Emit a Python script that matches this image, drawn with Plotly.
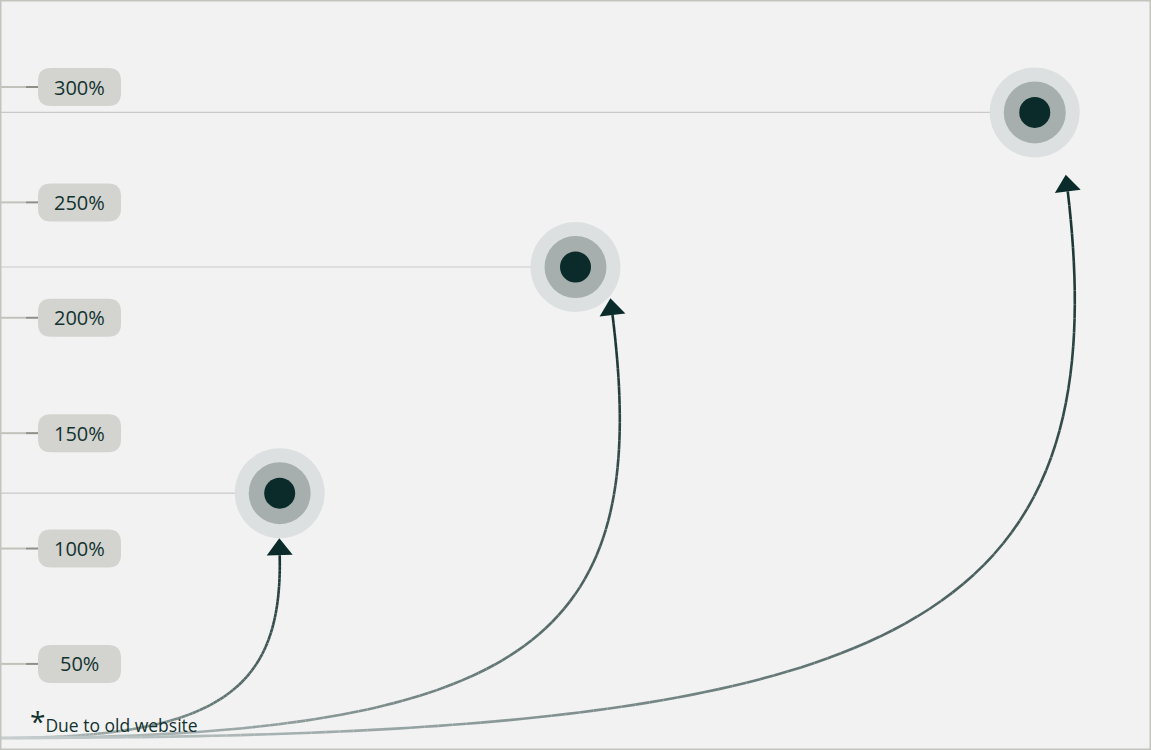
import math

import numpy as np
import plotly.graph_objects as go


# ---- data ----
tick_values = [50, 100, 150, 200, 250, 300]
tick_labels = ["50%", "100%", "150%", "200%", "250%", "300%"]
point_x = [24.3, 50.0, 89.9]          # position along the (hidden) horizontal axis, 0-100
point_values = [124, 222, 289]        # growth, %
footnote = "Due to old website"

# ---- styling ----
W, H = 1151, 750
X_RANGE = [0, 100]
Y_RANGE = [12.7, 337.7]
TEXT = "#12332f"
LINE_DARK = (22, 50, 48)
LINE_LIGHT = (200, 208, 207)
FONT = "Open Sans"

# arrow geometry (pixels): start of every curve, arrow base offset from the point,
# first-control x as a fraction of end x, second-control offset from arrow base
CURVE_START = (0, 738)
ARROW_OFFSET = [(0, 62), (37, 48), (33, 79)]
CTRL1_FRAC = [0.79, 0.88, 0.82]
CTRL2_OFFSET = [(3, 134), (40, 320), (54, 455)]
ARROW_SIZE = 22.5
N_SEG = 100


def to_px(x, y):
    return (x - X_RANGE[0]) / (X_RANGE[1] - X_RANGE[0]) * W, (Y_RANGE[1] - y) / (Y_RANGE[1] - Y_RANGE[0]) * H


def to_data(px, py):
    return X_RANGE[0] + px / W * (X_RANGE[1] - X_RANGE[0]), Y_RANGE[1] - py / H * (Y_RANGE[1] - Y_RANGE[0])


def mix(f):
    c = [int(round(l + (d - l) * f)) for l, d in zip(LINE_LIGHT, LINE_DARK)]
    return f"rgb({c[0]},{c[1]},{c[2]})"


def bezier(p0, p1, p2, p3, t):
    t = t[:, None]
    return ((1 - t) ** 3) * p0 + 3 * ((1 - t) ** 2) * t * p1 + 3 * (1 - t) * t ** 2 * p2 + t ** 3 * p3


fig = go.Figure()

# reference lines from the left edge to each point
for x, v in zip(point_x, point_values):
    fig.add_trace(go.Scatter(
        x=[X_RANGE[0], x], y=[v, v], mode="lines",
        line=dict(color="#c9c9c9", width=1.2), hoverinfo="skip",
    ))

# curved arrows, gradient light -> dark along the path length
arrow_x, arrow_y, arrow_ang = [], [], []
for i, (x, v) in enumerate(zip(point_x, point_values)):
    cx, cy = to_px(x, v)
    p3 = np.array([cx + ARROW_OFFSET[i][0], cy + ARROW_OFFSET[i][1]])
    p0 = np.array(CURVE_START, dtype=float)
    p1 = np.array([p3[0] * CTRL1_FRAC[i], CURVE_START[1]])
    p2 = p3 + np.array(CTRL2_OFFSET[i])
    pts = bezier(p0, p1, p2, p3, np.linspace(0, 1, 400))
    seglen = np.hypot(*np.diff(pts, axis=0).T)
    arc = np.concatenate([[0], np.cumsum(seglen)]) / seglen.sum()
    # resample at equal arc length
    s = np.linspace(0, 1, N_SEG + 1)
    pts = np.column_stack([np.interp(s, arc, pts[:, 0]), np.interp(s, arc, pts[:, 1])])
    for k in range(N_SEG):
        seg = pts[k:k + 2]
        dx, dy = zip(*[to_data(px, py) for px, py in seg])
        fig.add_trace(go.Scatter(
            x=list(dx), y=list(dy), mode="lines",
            line=dict(color=mix((k + 0.5) / N_SEG), width=2.6), hoverinfo="skip",
        ))
    u = p3 - p2
    u = u / np.hypot(*u)
    centre = p3 + u * ARROW_SIZE / 4
    ax, ay = to_data(*centre)
    arrow_x.append(ax)
    arrow_y.append(ay)
    arrow_ang.append(math.degrees(math.atan2(u[0], -u[1])))

fig.add_trace(go.Scatter(
    x=arrow_x, y=arrow_y, mode="markers", hoverinfo="skip",
    marker=dict(symbol="triangle-up", size=ARROW_SIZE, color="#0b2b2b", angle=arrow_ang,
                line=dict(width=0)),
))

# target rings
for size, color in [(90, "#dce0e0"), (62, "#a6afad"), (31, "#0b2b2b")]:
    fig.add_trace(go.Scatter(
        x=point_x, y=point_values, mode="markers",
        marker=dict(size=size, color=color, line=dict(width=0)),
        hovertemplate="%{y}%<extra></extra>",
    ))

# y tick pills
shapes = []
annotations = []
a, b, r = 41.5, 19, 13
pill = (f"M{-a + r},{-b} L{a - r},{-b} Q{a},{-b} {a},{-b + r} L{a},{b - r} Q{a},{b} {a - r},{b} "
        f"L{-a + r},{b} Q{-a},{b} {-a},{b - r} L{-a},{-b + r} Q{-a},{-b} {-a + r},{-b} Z")
pill_x, _ = to_data(79.5, 0)
for v, lab in zip(tick_values, tick_labels):
    shapes.append(dict(type="line", xref="paper", yref="y", x0=0, x1=26 / W, y0=v, y1=v,
                       line=dict(color="#c2c2bd", width=2)))
    shapes.append(dict(type="line", xref="paper", yref="y", x0=26 / W, x1=39 / W, y0=v, y1=v,
                       line=dict(color="#8f8f8a", width=2)))
    shapes.append(dict(type="path", xref="x", yref="y", xsizemode="pixel", ysizemode="pixel",
                       xanchor=pill_x, yanchor=v, path=pill, fillcolor="#d3d3d0",
                       line=dict(width=0), layer="above"))
    annotations.append(dict(x=pill_x, y=v, xref="x", yref="y", text=lab, showarrow=False,
                            font=dict(family=FONT, size=20, color=TEXT)))

annotations.append(dict(
    x=28 / W, y=1 - 721 / H, xref="paper", yref="paper", xanchor="left", yanchor="middle",
    text=f"<span style='font-size:28px'>*</span>{footnote}", showarrow=False,
    font=dict(family=FONT, size=17.5, color=TEXT),
))

# frame
shapes.append(dict(type="rect", xref="paper", yref="paper", x0=0, x1=1, y0=0, y1=1,
                   line=dict(color="#c4c4bf", width=3), layer="above"))

fig.update_layout(
    width=W, height=H,
    margin=dict(l=0, r=0, t=0, b=0),
    paper_bgcolor="#f2f2f2", plot_bgcolor="#f2f2f2",
    showlegend=False,
    xaxis=dict(range=X_RANGE, visible=False, fixedrange=True),
    yaxis=dict(range=Y_RANGE, visible=False, fixedrange=True),
    shapes=shapes, annotations=annotations,
    font=dict(family=FONT, color=TEXT),
)

# drop the browser's default page margin so the chart sits flush in the window
fig.write_html("out.html", config={"displayModeBar": False},
               post_script="document.body.style.margin='0';")
